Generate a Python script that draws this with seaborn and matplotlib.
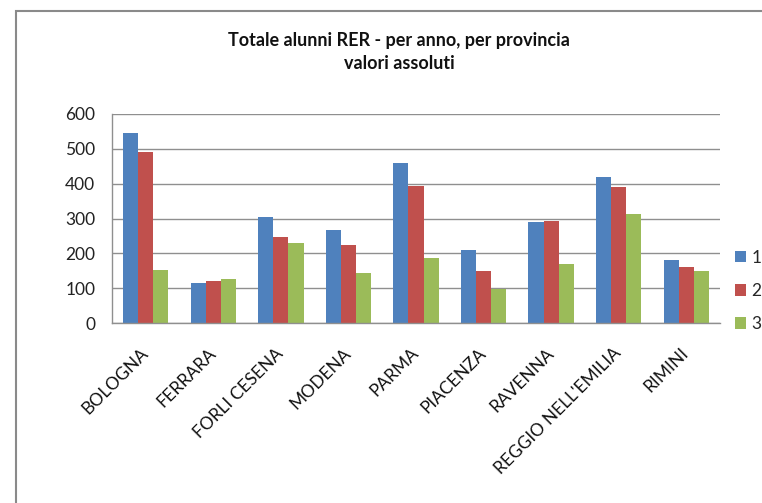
import matplotlib
matplotlib.use("Agg")
import matplotlib.pyplot as plt
import seaborn as sns
import pandas as pd
from matplotlib.patches import Rectangle

provinces = ["BOLOGNA", "FERRARA", "FORLI CESENA", "MODENA", "PARMA",
             "PIACENZA", "RAVENNA", "REGGIO NELL'EMILIA", "RIMINI"]
series_names = ["1", "2", "3"]
values_1 = [545, 116, 304, 266, 459, 209, 290, 419, 180]
values_2 = [492, 122, 246, 223, 392, 148, 293, 390, 162]
values_3 = [151, 125, 229, 143, 186, 99, 168, 314, 148]
y_ticks = [0, 100, 200, 300, 400, 500, 600]
title_text = "Totale alunni RER - per anno, per provincia\nvalori assoluti"
colors = ["#4F81BD", "#C0504D", "#9BBB59"]

rows = []
for name, vals in zip(series_names, [values_1, values_2, values_3]):
    for p, v in zip(provinces, vals):
        rows.append({"provincia": p, "serie": name, "valore": v})
df = pd.DataFrame(rows)

sns.set_theme(style="white")
plt.rcParams["font.family"] = ["Lato", "DejaVu Sans"]

fig = plt.figure(figsize=(7.62, 5.03), dpi=100)
W, H = 762, 503
ax = fig.add_axes([112 / W, 1 - 323 / H, (720 - 112) / W, (323 - 114) / H])

sns.barplot(data=df, x="provincia", y="valore", hue="serie", order=provinces,
            hue_order=series_names, palette=colors, width=0.67, ax=ax,
            saturation=1, errorbar=None, legend=True, edgecolor="none")

ax.set_ylim(0, 600)
ax.set_yticks(y_ticks)
ax.set_yticklabels([str(t) for t in y_ticks], fontsize=12.5, color="#222222")
ax.set_xlim(-0.5, len(provinces) - 0.5)
ax.set_xlabel("")
ax.set_ylabel("")
ax.yaxis.grid(True, color="#8f8f8f", linewidth=1.0)
ax.set_axisbelow(True)
ax.tick_params(axis="y", length=0, pad=12)
ax.tick_params(axis="x", length=0, pad=20)
ax.set_xticks(range(len(provinces)))
ax.set_xticklabels(provinces, rotation=45, ha="right", va="center", fontsize=12.5,
                   color="#111111", rotation_mode="anchor")
for s in ["top", "right"]:
    ax.spines[s].set_visible(False)
for s in ["left", "bottom"]:
    ax.spines[s].set_color("#8f8f8f")
    ax.spines[s].set_linewidth(1.0)

handles, labels = ax.get_legend_handles_labels()
ax.get_legend().remove()
fig.legend(handles, labels, loc="center left", bbox_to_anchor=(735 / W, 1 - 291 / H),
           frameon=False, fontsize=12.5, handlelength=0.65, handleheight=0.65,
           labelspacing=1.0, handletextpad=0.3, borderpad=0, borderaxespad=0)

fig.text(399 / W, 1 - 52 / H, title_text, ha="center", va="center",
         fontsize=13, fontweight="bold", linespacing=1.45, color="#111111")

fig.patches.append(Rectangle((16 / W, -0.1), 1.2, 1 - 11 / H + 0.1,
                             transform=fig.transFigure, fill=False,
                             edgecolor="#8a8a8a", linewidth=1.5))

fig.savefig("out.png", dpi=100)
